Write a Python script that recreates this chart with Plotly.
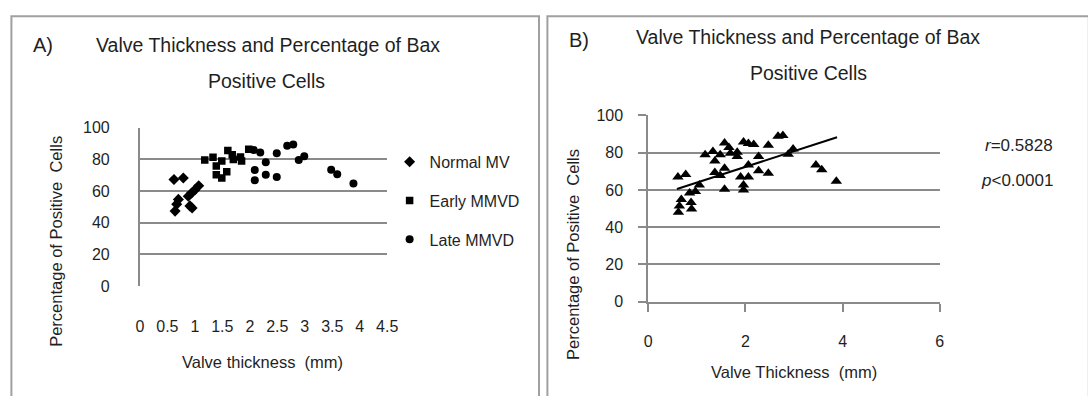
import plotly.graph_objects as go

# ---- Panel A: valve thickness (mm) vs % Bax positive cells, by group ----
normal_x = [0.62, 0.79, 1.07, 1.00, 0.94, 0.88, 0.70, 0.67, 0.64, 0.91, 0.95]
normal_y = [67.2, 68.2, 63.3, 60.7, 58.7, 56.7, 54.7, 51.7, 47.3, 50.6, 49.2]

early_x = [1.18, 1.33, 1.49, 1.39, 1.60, 1.68, 1.70, 1.83, 1.85, 1.39, 1.49, 1.58, 1.98]
early_y = [79.5, 81.3, 78.9, 75.8, 85.5, 82.9, 79.9, 81.4, 78.9, 70.2, 68.2, 72.2, 86.3]

late_x = [2.07, 2.19, 2.49, 2.68, 2.79, 2.29, 2.89, 2.99, 2.09, 2.09, 2.29, 2.49, 3.48, 3.59, 3.885]
late_y = [85.9, 84.3, 83.9, 88.5, 89.3, 78.2, 79.5, 81.9, 73.2, 66.8, 70.2, 68.8, 73.4, 70.6, 64.8]

# ---- Panel B: all samples pooled, with linear trend ----
all_x = [0.61, 0.77, 1.05, 0.97, 0.85, 0.68, 0.64, 0.62, 0.88, 0.89,
         1.17, 1.33, 1.48, 1.37, 1.57, 1.66, 1.69, 1.83, 1.83, 1.96,
         2.06, 2.17, 2.47, 2.67, 2.77, 2.88, 2.98, 2.27, 2.06, 1.37,
         1.48, 1.57, 2.27, 2.47, 1.90, 2.06, 1.96, 1.96, 1.57, 3.45,
         3.57, 3.87]
all_y = [66.9, 68.3, 62.6, 59.2, 58.3, 54.9, 51.4, 48.0, 53.2, 49.7,
         78.9, 80.6, 78.9, 75.5, 85.2, 82.8, 79.7, 80.2, 77.9, 85.8,
         84.9, 84.4, 84.0, 88.8, 89.2, 79.2, 82.0, 78.0, 73.4, 69.4,
         67.7, 71.7, 70.3, 68.9, 66.9, 66.9, 62.6, 60.0, 60.4, 73.4,
         70.8, 64.7]

trend_x = [0.59, 3.885]
trend_y = [60.5, 88.3]

stat_r = "0.5828"
stat_p = "0.0001"

a_xticks = [0, 0.5, 1, 1.5, 2, 2.5, 3, 3.5, 4, 4.5]
a_xtext = ["0", "0.5", "1", "1.5", "2", "2.5", "3", "3.5", "4", "4.5"]
b_xticks = [0, 2, 4, 6]
y_ticks = [0, 20, 40, 60, 80, 100]

W, H = 1088, 396
FONT = "Liberation Sans, Arial, sans-serif"
TXT = "#1f1f1f"
GRID = "#8a8a8a"


def px(x):
    return x / W


def py(y):
    return 1 - y / H


fig = go.Figure()

fig.add_trace(go.Scatter(x=normal_x, y=normal_y, mode="markers", name="Normal MV",
                         legendgroup="n", xaxis="x", yaxis="y",
                         marker=dict(symbol="diamond", size=8.5, color="black")))
fig.add_trace(go.Scatter(x=early_x, y=early_y, mode="markers", name="Early MMVD",
                         legendgroup="e", xaxis="x", yaxis="y",
                         marker=dict(symbol="square", size=7.5, color="black")))
fig.add_trace(go.Scatter(x=late_x, y=late_y, mode="markers", name="Late MMVD",
                         legendgroup="l", xaxis="x", yaxis="y",
                         marker=dict(symbol="circle", size=8, color="black")))

fig.add_trace(go.Scatter(x=all_x, y=all_y, mode="markers", showlegend=False,
                         xaxis="x2", yaxis="y2",
                         marker=dict(symbol="triangle-up", size=10, color="black")))
fig.add_trace(go.Scatter(x=trend_x, y=trend_y, mode="lines", showlegend=False,
                         xaxis="x2", yaxis="y2",
                         line=dict(color="black", width=2)))

tickfont = dict(family=FONT, size=16, color=TXT)

fig.update_layout(
    width=W, height=H,
    margin=dict(l=0, r=0, t=0, b=0),
    paper_bgcolor="white", plot_bgcolor="white",
    font=dict(family=FONT, color=TXT),
    showlegend=True,
    legend=dict(x=px(391), y=py(143), xanchor="left", yanchor="top",
                font=dict(family=FONT, size=16, color=TXT),
                bgcolor="rgba(0,0,0,0)", tracegroupgap=15, itemsizing="trace"),
    xaxis=dict(domain=[px(137.8), px(388.6)], range=[0, 4.5], anchor="y",
               tickvals=a_xticks, ticktext=a_xtext, ticks="", showgrid=False,
               showline=False, zeroline=False, tickfont=tickfont,
               ticklabelstandoff=29),
    yaxis=dict(domain=[py(290.5), py(125)], range=[0, 100], anchor="x",
               tickvals=y_ticks, ticks="", showgrid=True, gridcolor=GRID,
               gridwidth=2, showline=True, linecolor=GRID, linewidth=2,
               zeroline=False, tickfont=tickfont, ticklabelstandoff=25),
    xaxis2=dict(domain=[px(653.3), px(948.9)], range=[0, 6], anchor="y2",
                tickvals=b_xticks, ticks="outside", ticklen=8, tickwidth=2,
                tickcolor=GRID, showgrid=False, showline=True, linecolor=GRID,
                linewidth=2, zeroline=False, tickfont=tickfont,
                ticklabelstandoff=16),
    yaxis2=dict(domain=[py(306.7), py(112.3)], range=[0, 100], anchor="x2",
                tickvals=y_ticks, ticks="outside", ticklen=8, tickwidth=2,
                tickcolor=GRID, showgrid=True, gridcolor=GRID, gridwidth=2,
                showline=True, linecolor=GRID, linewidth=2, zeroline=False,
                tickfont=tickfont, ticklabelstandoff=12),
)

# panel frames
frame = dict(color="#a0a0a0", width=2)
fig.add_shape(type="rect", xref="paper", yref="paper",
              x0=px(7.5), x1=px(542.5), y0=py(420), y1=py(8.5), line=frame,
              fillcolor="rgba(0,0,0,0)", layer="below")
fig.add_shape(type="rect", xref="paper", yref="paper",
              x0=px(551), x1=px(1100), y0=py(420), y1=py(8.5), line=frame,
              fillcolor="rgba(0,0,0,0)", layer="below")


def note(text, x, y, size, xanchor="center", angle=0):
    fig.add_annotation(text=text, x=px(x), y=py(y), xref="paper", yref="paper",
                       xanchor=xanchor, yanchor="middle", showarrow=False,
                       textangle=angle,
                       font=dict(family=FONT, size=size, color=TXT))


# Panel A texts
note("A)", 27.5, 38.5, 20, xanchor="left")
note("Valve Thickness and Percentage of Bax", 267.5, 38.5, 19.5)
note("Positive Cells", 266, 76.7, 19.5)
note("Valve thickness  (mm)", 262, 370, 16.5)
note("Percentage of Positive  Cells", 52, 244, 16.5, angle=-90)

# Panel B texts
note("B)", 571, 33.5, 20, xanchor="left")
note("Valve Thickness and Percentage of Bax", 815, 30.7, 19.5)
note("Positive Cells", 816, 68.3, 19.5)
note("Valve Thickness  (mm)", 801, 380, 16.5)
note("Percentage of Positive  Cells", 577, 258, 16.5, angle=-90)
note("<i>r</i>=" + stat_r, 1066, 144, 17, xanchor="right")
note("<i>p</i>&lt;" + stat_p, 1066, 180, 17, xanchor="right")

fig.write_html("out.html")
